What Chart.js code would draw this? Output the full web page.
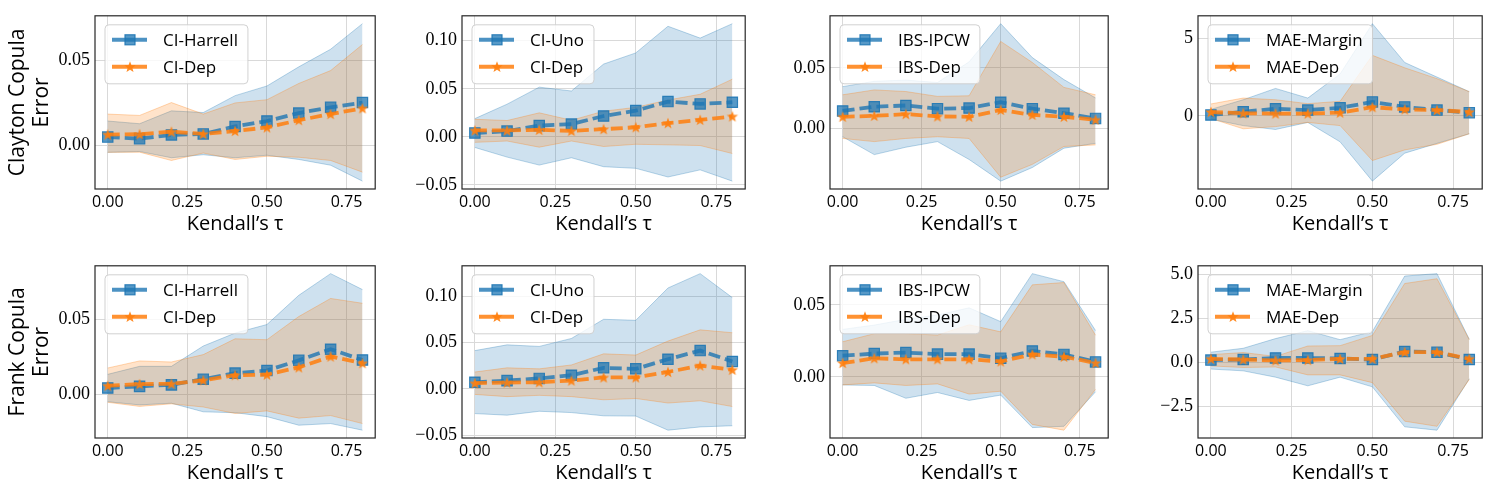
<!DOCTYPE html>
<html><head><meta charset="utf-8">
<script src="https://cdn.jsdelivr.net/npm/chart.js@4.4.0/dist/chart.umd.min.js"></script>
<style>
html,body{margin:0;padding:0;background:#fff;}
body{width:1495px;height:495px;position:relative;overflow:hidden;}
.panel{position:absolute;}
</style></head><body>
<script>
// ---------- DATA ----------
const tau = [0, 0.1, 0.2, 0.3, 0.4, 0.5, 0.6, 0.7, 0.8];
const xTicks = [0, 0.25, 0.5, 0.75];
const rowLabels = ['Clayton Copula', 'Frank Copula'];
const yLabelLine2 = 'Error';
const xLabel = 'Kendall\u2019s \u03C4';
const legendLabels = [['CI-Harrell','CI-Dep'], ['CI-Uno','CI-Dep'], ['IBS-IPCW','IBS-Dep'], ['MAE-Margin','MAE-Dep']];
const yTickSteps = [0.05, 0.05, 0.05, 5, 0.05, 0.05, 0.05, 2.5];
const yTickDecimals = [2, 2, 2, 0, 2, 2, 2, 1];

// Clayton copula
const clHarrellMean = [0.0047,0.0038,0.0060,0.0066,0.0110,0.0142,0.0189,0.0223,0.0251];
const clHarrellLo   = [-0.0043,-0.0038,-0.0075,-0.0057,-0.0075,-0.0060,-0.0085,-0.0119,-0.0213];
const clHarrellHi   = [0.0142,0.0126,0.0202,0.0192,0.0292,0.0349,0.0462,0.0566,0.0717];
const clCIDep1Mean  = [0.0062,0.0064,0.0079,0.0066,0.0083,0.0104,0.0147,0.0183,0.0217];
const clCIDep1Lo    = [-0.0043,-0.0042,-0.0091,-0.0047,-0.0085,-0.0066,-0.0072,-0.0091,-0.0160];
const clCIDep1Hi    = [0.0183,0.0175,0.0251,0.0183,0.0249,0.0268,0.0364,0.0440,0.0594];

const clUnoMean = [0.0040,0.0060,0.0117,0.0133,0.0217,0.0273,0.0367,0.0343,0.0360];
const clUnoLo   = [-0.0110,-0.0210,-0.0293,-0.0217,-0.0310,-0.0327,-0.0417,-0.0343,-0.0460];
const clUnoHi   = [0.0190,0.0340,0.0517,0.0477,0.0757,0.0873,0.1150,0.1027,0.1177];
const clCIDep2Mean = [0.0067,0.0067,0.0073,0.0063,0.0080,0.0100,0.0143,0.0177,0.0213];
const clCIDep2Lo   = [-0.0057,-0.0043,-0.0107,-0.0043,-0.0100,-0.0077,-0.0083,-0.0090,-0.0173];
const clCIDep2Hi   = [0.0183,0.0170,0.0250,0.0173,0.0267,0.0307,0.0383,0.0443,0.0600];

const clIpcwMean = [0.0146,0.0181,0.0191,0.0165,0.0170,0.0218,0.0165,0.0128,0.0085];
const clIpcwLo   = [-0.0066,-0.0213,-0.0152,-0.0106,-0.0253,-0.0431,-0.0319,-0.0160,-0.0120];
const clIpcwHi   = [0.0346,0.0390,0.0400,0.0380,0.0550,0.0864,0.0585,0.0404,0.0253];
const clIbsDepMean = [0.0098,0.0106,0.0120,0.0101,0.0098,0.0154,0.0114,0.0098,0.0074];
const clIbsDepLo   = [-0.0080,-0.0106,-0.0080,-0.0066,-0.0080,-0.0399,-0.0293,-0.0146,-0.0133];
const clIbsDepHi   = [0.0279,0.0319,0.0306,0.0266,0.0271,0.0718,0.0545,0.0340,0.0279];

const clMarginMean = [0.06,0.27,0.46,0.375,0.52,0.90,0.58,0.375,0.21];
const clMarginLo   = [-0.21,-0.625,-0.875,-0.42,-1.67,-4.20,-2.40,-1.77,-1.15];
const clMarginHi   = [0.42,1.04,1.77,1.15,2.70,5.94,3.44,2.50,1.56];
const clMaeDepMean = [0.25,0.17,0.15,0.15,0.21,0.56,0.42,0.375,0.25];
const clMaeDepLo   = [-0.17,-0.83,-0.69,-0.42,-0.625,-2.875,-2.19,-1.83,-1.15];
const clMaeDepHi   = [0.77,1.15,1.04,0.79,0.94,3.90,3.10,2.40,1.56];

// Frank copula
const frHarrellMean = [0.0042,0.0053,0.0063,0.0101,0.0141,0.0158,0.0226,0.0300,0.0228];
const frHarrellLo   = [-0.0049,-0.0070,-0.0059,-0.0116,-0.0122,-0.0148,-0.0205,-0.0194,-0.0238];
const frHarrellHi   = [0.0133,0.0186,0.0186,0.0321,0.0407,0.0464,0.0658,0.0802,0.0696];
const frCIDep1Mean  = [0.0057,0.0068,0.0070,0.0093,0.0127,0.0131,0.0179,0.0251,0.0207];
const frCIDep1Lo    = [-0.0053,-0.0080,-0.0063,-0.0084,-0.0127,-0.0110,-0.0158,-0.0141,-0.0194];
const frCIDep1Hi    = [0.0175,0.0222,0.0215,0.0264,0.0369,0.0363,0.0517,0.0637,0.0605];

const frUnoMean = [0.0072,0.0090,0.0114,0.0148,0.0228,0.0217,0.0321,0.0414,0.0297];
const frUnoLo   = [-0.0266,-0.0283,-0.0241,-0.0255,-0.0290,-0.0293,-0.0445,-0.0410,-0.0397];
const frUnoHi   = [0.0414,0.0476,0.0459,0.0545,0.0752,0.0741,0.1090,0.1245,0.0986];
const frCIDep2Mean = [0.0062,0.0069,0.0072,0.0090,0.0124,0.0124,0.0183,0.0252,0.0207];
const frCIDep2Lo   = [-0.0059,-0.0083,-0.0069,-0.0083,-0.0117,-0.0103,-0.0152,-0.0128,-0.0190];
const frCIDep2Hi   = [0.0183,0.0228,0.0217,0.0259,0.0379,0.0366,0.0517,0.0638,0.0607];

const frIpcwMean = [0.0147,0.0162,0.0169,0.0158,0.0158,0.0129,0.0180,0.0156,0.0104];
const frIpcwLo   = [-0.0056,-0.0060,-0.0149,-0.0109,-0.0164,-0.0127,-0.0353,-0.0344,-0.0104];
const frIpcwHi   = [0.0330,0.0360,0.0400,0.0430,0.0480,0.0384,0.0718,0.0662,0.0322];
const frIbsDepMean = [0.0096,0.0129,0.0122,0.0122,0.0122,0.0107,0.0156,0.0140,0.0096];
const frIbsDepLo   = [-0.0056,-0.0042,-0.0060,-0.0049,-0.0120,-0.0100,-0.0331,-0.0371,-0.0087];
const frIbsDepHi   = [0.0244,0.0300,0.0300,0.0291,0.0362,0.0313,0.0640,0.0656,0.0289];

const frMarginMean = [0.15,0.18,0.27,0.27,0.24,0.18,0.64,0.60,0.18];
const frMarginLo   = [-0.36,-0.46,-0.82,-1.31,-0.82,-1.37,-3.64,-3.83,-0.91];
const frMarginHi   = [0.60,0.82,1.37,1.82,1.31,1.77,4.92,5.06,1.33];
const frMaeDepMean = [0.22,0.18,0.13,0.15,0.22,0.22,0.60,0.60,0.22];
const frMaeDepLo   = [-0.18,-0.27,-0.24,-0.69,-0.69,-1.13,-3.32,-3.61,-0.95];
const frMaeDepHi   = [0.46,0.58,0.36,0.95,0.97,1.55,4.50,4.77,1.31];

// ---------- PANEL TABLE (built from the arrays) ----------
const panels = [
  {b:[clHarrellMean,clHarrellLo,clHarrellHi], o:[clCIDep1Mean,clCIDep1Lo,clCIDep1Hi]},
  {b:[clUnoMean,clUnoLo,clUnoHi],             o:[clCIDep2Mean,clCIDep2Lo,clCIDep2Hi]},
  {b:[clIpcwMean,clIpcwLo,clIpcwHi],          o:[clIbsDepMean,clIbsDepLo,clIbsDepHi]},
  {b:[clMarginMean,clMarginLo,clMarginHi],    o:[clMaeDepMean,clMaeDepLo,clMaeDepHi]},
  {b:[frHarrellMean,frHarrellLo,frHarrellHi], o:[frCIDep1Mean,frCIDep1Lo,frCIDep1Hi]},
  {b:[frUnoMean,frUnoLo,frUnoHi],             o:[frCIDep2Mean,frCIDep2Lo,frCIDep2Hi]},
  {b:[frIpcwMean,frIpcwLo,frIpcwHi],          o:[frIbsDepMean,frIbsDepLo,frIbsDepHi]},
  {b:[frMarginMean,frMarginLo,frMarginHi],    o:[frMaeDepMean,frMaeDepLo,frMaeDepHi]},
];

// ---------- LAYOUT ----------
const PL = [95, 462, 830, 1198], PR = [379, 749, 1112, 1486];
const PT = [9, 259], PB = [189, 438];
const PAD_TOP = 9, PAD_RIGHT = 6, X_AXIS_H = 52;

const BLUE = 'rgba(31,119,180,';
const ORANGE = 'rgba(255,127,14,';
const SANS = '"Open Sans", "DejaVu Sans", sans-serif';
const SERIF = '"Liberation Serif", "DejaVu Serif", serif';

function starPath(ctx, cx, cy, R, r) {
  ctx.beginPath();
  for (let i = 0; i < 10; i++) {
    const ang = -Math.PI / 2 + i * Math.PI / 5;
    const rad = i % 2 === 0 ? R : r;
    const px = cx + rad * Math.cos(ang), py = cy + rad * Math.sin(ang);
    if (i === 0) ctx.moveTo(px, py); else ctx.lineTo(px, py);
  }
  ctx.closePath();
}
function makeStar() {
  const c = document.createElement('canvas');
  c.width = 14; c.height = 14;
  const g = c.getContext('2d');
  starPath(g, 7, 7.4, 6, 2.5);
  g.fillStyle = ORANGE + '0.9)';
  g.fill();
  return c;
}
const starImg = makeStar();

function fmt(v, d) {
  const s = Math.abs(v) < 1e-12 ? (0).toFixed(d) : v.toFixed(d);
  return s.replace('-', '\u2212');
}

const framePlugin = {
  id: 'mplFrame',
  afterDraw(chart) {
    const {ctx, chartArea: a} = chart;
    const cfg = chart.options.plugins.mplFrame;
    ctx.save();
    // legend
    ctx.font = '17px ' + SANS;
    const tw = Math.max(...cfg.labels.map(t => ctx.measureText(t).width));
    const bx = a.left + 10, by = a.top + 9, bw = 58 + tw + 10, bh = 59, rr = 4;
    ctx.beginPath();
    ctx.moveTo(bx + rr, by);
    ctx.lineTo(bx + bw - rr, by); ctx.arcTo(bx + bw, by, bx + bw, by + rr, rr);
    ctx.lineTo(bx + bw, by + bh - rr); ctx.arcTo(bx + bw, by + bh, bx + bw - rr, by + bh, rr);
    ctx.lineTo(bx + rr, by + bh); ctx.arcTo(bx, by + bh, bx, by + bh - rr, rr);
    ctx.lineTo(bx, by + rr); ctx.arcTo(bx, by, bx + rr, by, rr);
    ctx.closePath();
    ctx.fillStyle = 'rgba(255,255,255,0.8)';
    ctx.fill();
    ctx.strokeStyle = 'rgba(204,204,204,0.9)';
    ctx.lineWidth = 1;
    ctx.stroke();
    const rows = [by + 15, by + 42];
    // row 1: blue square
    ctx.lineWidth = 4;
    ctx.strokeStyle = BLUE + '0.8)';
    ctx.beginPath(); ctx.moveTo(bx + 7, rows[0]); ctx.lineTo(bx + 42, rows[0]); ctx.stroke();
    ctx.fillStyle = BLUE + '0.75)';
    ctx.fillRect(bx + 25 - 5, rows[0] - 5, 10, 10);
    ctx.lineWidth = 1.2; ctx.strokeStyle = BLUE + '0.9)';
    ctx.strokeRect(bx + 25 - 5, rows[0] - 5, 10, 10);
    // row 2: orange star
    ctx.lineWidth = 4;
    ctx.strokeStyle = ORANGE + '0.85)';
    ctx.beginPath(); ctx.moveTo(bx + 7, rows[1]); ctx.lineTo(bx + 42, rows[1]); ctx.stroke();
    starPath(ctx, bx + 25, rows[1] + 0.4, 6, 2.5);
    ctx.fillStyle = ORANGE + '0.9)'; ctx.fill();
    // text
    ctx.fillStyle = '#000';
    ctx.textBaseline = 'middle';
    ctx.textAlign = 'left';
    ctx.fillText(cfg.labels[0], bx + 58, rows[0] + 1);
    ctx.fillText(cfg.labels[1], bx + 58, rows[1] + 1);
    // frame
    ctx.strokeStyle = '#262626';
    ctx.lineWidth = 1.2;
    ctx.strokeRect(a.left, a.top, a.right - a.left, a.bottom - a.top);
    ctx.restore();
  }
};

function pts(arr) { return tau.map((t, i) => ({x: t, y: arr[i]})); }

function buildPanel(idx) {
  const col = idx % 4, row = Math.floor(idx / 4);
  const p = panels[idx];
  const yw = col === 0 ? 95 : 75;
  const div = document.createElement('div');
  div.className = 'panel';
  div.style.left = (PL[col] - yw) + 'px';
  div.style.top = (PT[row] - PAD_TOP) + 'px';
  div.style.width = (PR[col] - PL[col] + yw + PAD_RIGHT) + 'px';
  div.style.height = (PB[row] - PT[row] + PAD_TOP + X_AXIS_H) + 'px';
  const cv = document.createElement('canvas');
  div.appendChild(cv);
  document.body.appendChild(div);

  // matplotlib-style autoscale: 5% margins around the data extent
  const all = [...p.b[1], ...p.b[2], ...p.o[1], ...p.o[2], ...p.b[0], ...p.o[0]];
  const dmin = Math.min(...all), dmax = Math.max(...all);
  const m = (dmax - dmin) * 0.05;
  const ymin = dmin - m, ymax = dmax + m;
  const step = yTickSteps[idx], dec = yTickDecimals[idx];
  const yTicks = [];
  for (let k = Math.ceil(ymin / step - 1e-9); k * step <= ymax + 1e-12; k++) yTicks.push(+(k * step).toFixed(6));
  const xmin = tau[0] - 0.05 * (tau[tau.length - 1] - tau[0]);
  const xmax = tau[tau.length - 1] + 0.05 * (tau[tau.length - 1] - tau[0]);

  const lineBase = {borderWidth: 3.8, borderDash: [12, 5], tension: 0, fill: false};
  const bandEdge = {borderWidth: 1, pointRadius: 0, tension: 0};

  new Chart(cv, {
    type: 'line',
    data: {datasets: [
      Object.assign({}, lineBase, {data: pts(p.o[0]), order: 1, borderColor: ORANGE + '0.85)',
        pointStyle: starImg, pointRadius: 6}),
      Object.assign({}, lineBase, {data: pts(p.b[0]), order: 2, borderColor: BLUE + '0.8)',
        pointStyle: 'rect', pointRadius: 7.3, pointBackgroundColor: BLUE + '0.75)',
        pointBorderColor: BLUE + '0.9)', pointBorderWidth: 1.2}),
      Object.assign({}, bandEdge, {data: pts(p.o[1]), order: 3, borderColor: ORANGE + '0.3)', fill: false}),
      Object.assign({}, bandEdge, {data: pts(p.o[2]), order: 3, borderColor: ORANGE + '0.3)',
        fill: {target: 2}, backgroundColor: ORANGE + '0.22)'}),
      Object.assign({}, bandEdge, {data: pts(p.b[1]), order: 4, borderColor: BLUE + '0.3)', fill: false}),
      Object.assign({}, bandEdge, {data: pts(p.b[2]), order: 4, borderColor: BLUE + '0.3)',
        fill: {target: 4}, backgroundColor: BLUE + '0.22)'}),
    ]},
    options: {
      responsive: true, maintainAspectRatio: false, animation: false,
      events: [],
      layout: {padding: {top: PAD_TOP, right: PAD_RIGHT, left: 0, bottom: 0}},
      plugins: {
        legend: {display: false}, tooltip: {enabled: false},
        mplFrame: {labels: legendLabels[col]}
      },
      scales: {
        x: {
          type: 'linear', min: xmin, max: xmax, bounds: 'data',
          afterBuildTicks: s => { s.ticks = xTicks.map(v => ({value: v})); },
          afterFit: s => { s.height = X_AXIS_H; },
          grid: {color: '#d9d9d9', lineWidth: 1, drawTicks: false},
          border: {display: false},
          ticks: {padding: 4, color: '#000', font: {family: SANS, size: 16},
            callback: v => fmt(v, 2), maxRotation: 0, autoSkip: false},
          title: {display: true, text: xLabel, color: '#000',
            font: {family: SANS, size: 20}, padding: {top: 0, bottom: 5}}
        },
        y: {
          type: 'linear', min: ymin, max: ymax, bounds: 'data',
          afterBuildTicks: s => { s.ticks = yTicks.map(v => ({value: v})); },
          afterFit: s => { s.width = yw; },
          grid: {color: '#d9d9d9', lineWidth: 1, drawTicks: false},
          border: {display: false},
          ticks: {padding: 5, color: '#000', font: {family: SERIF, size: 18},
            callback: v => fmt(v, dec), autoSkip: false},
          title: col === 0 ? {display: true, text: [rowLabels[row], yLabelLine2], color: '#000',
            font: {family: SANS, size: 21, lineHeight: 1.15}, padding: {top: 6, bottom: 0}} : {display: false}
        }
      }
    },
    plugins: [framePlugin]
  });
}

let drawn = false;
function drawAll() {
  if (drawn) return; drawn = true;
  for (let i = 0; i < panels.length; i++) buildPanel(i);
}
const fontsReady = Promise.all([
  document.fonts.load('16px "Open Sans"'),
  document.fonts.load('20px "Open Sans"'),
  document.fonts.load('18px "Liberation Serif"')
]);
fontsReady.then(drawAll, drawAll);
setTimeout(drawAll, 800);
</script>
</body></html>
